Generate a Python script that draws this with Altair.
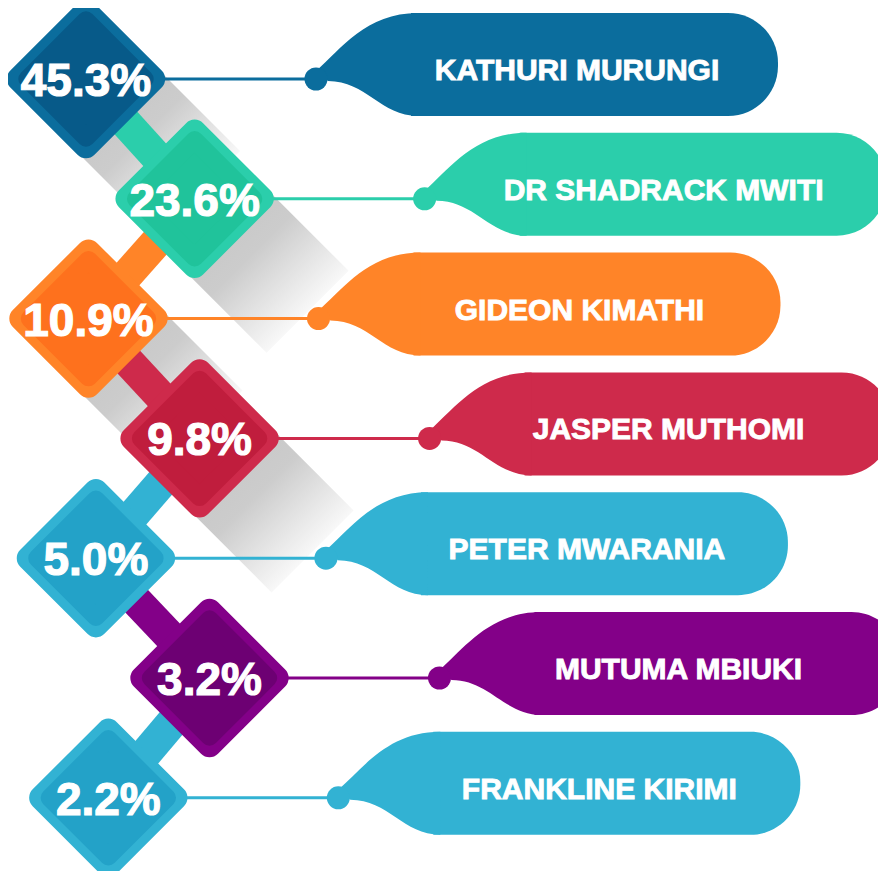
import altair as alt
import numpy as np
import pandas as pd

# ---- data -------------------------------------------------------------
names = ["KATHURI MURUNGI", "DR SHADRACK MWITI", "GIDEON KIMATHI", "JASPER MUTHOMI",
         "PETER MWARANIA", "MUTUMA MBIUKI", "FRANKLINE KIRIMI"]
shares = [45.3, 23.6, 10.9, 9.8, 5.0, 3.2, 2.2]

# ---- styles -----------------------------------------------------------
outer_colors = ["#0B6D9D", "#2BCEAB", "#FF8428", "#CE2A4B", "#32B2D3", "#830088", "#32B2D3"]
inner_colors = ["#075A89", "#20C39B", "#FE711D", "#C01D3D", "#23A2C8", "#6D0073", "#23A2C8"]

# ---- layout constants (pixel-like units) ------------------------------
Y0, STEP = 79, 119.8
X0, ZIG, DRIFT = 86, 108, 0.62
DOT_DX = 230
BODY_X0, BODY_X1 = 95, 462
BODY_TOP, BODY_BOTTOM = 66, 37
LABEL_DX, LABEL_ZIG = 261, -22
SHADOW_LEN = 113
SHADOW_ROWS = 4
TAIL = "M0,-0.08 C0.25,-0.3 0.5,-0.66 1.02,-0.66 L1.02,0.37 C0.65,0.37 0.5,0.02 0.12,0.02 Z"

W, H = 870, 863

idx = np.arange(len(names))
df = pd.DataFrame({"name": names, "share": shares,
                   "outer": outer_colors, "inner": inner_colors})
df["pct"] = [f"{v:.1f}%" for v in shares]
df["cx"] = X0 + ZIG * (idx % 2) + DRIFT * idx ** 2
df["cy"] = Y0 + STEP * idx
df["dot"] = df["cx"] + DOT_DX
df["bx0"] = df["dot"] + BODY_X0
df["bx1"] = df["dot"] + BODY_X1
df["by0"] = df["cy"] - BODY_TOP
df["by1"] = df["cy"] + BODY_BOTTOM
df["lx"] = df["dot"] + LABEL_DX + LABEL_ZIG * (idx % 2)
df["ly"] = df["cy"] + 1
df["py"] = df["cy"] + 17
df["sx"] = df["cx"] + SHADOW_LEN
df["sy"] = df["cy"] + SHADOW_LEN

conn = pd.DataFrame({
    "x": df["cx"].values[:-1], "y": df["cy"].values[:-1],
    "x2": df["cx"].values[1:], "y2": df["cy"].values[1:],
    "col": df["outer"].values[1:],
})

xs = alt.Scale(domain=[8, 8 + W], nice=False, zero=False)
ys = alt.Scale(domain=[8, 8 + H], nice=False, zero=False, reverse=True)


def X(f):
    return alt.X(f"{f}:Q", scale=xs, axis=None)


def Y(f):
    return alt.Y(f"{f}:Q", scale=ys, axis=None)


base = alt.Chart(df)

grad = alt.LinearGradient(
    gradient="linear",
    stops=[alt.GradientStop(color="#c4c4c4", offset=0),
           alt.GradientStop(color="#cccccc", offset=0.5),
           alt.GradientStop(color="#f8f8f8", offset=1)],
    x1=0, y1=0, x2=1, y2=1)

shadows = alt.Chart(df.head(SHADOW_ROWS)).mark_rule(
    strokeWidth=116, strokeCap="butt", stroke=grad
).encode(x=X("cx"), y=Y("cy"), x2="sx:Q", y2="sy:Q")

connectors = alt.Chart(conn).mark_rule(strokeWidth=32, strokeCap="butt").encode(
    x=X("x"), y=Y("y"), x2="x2:Q", y2="y2:Q",
    color=alt.Color("col:N", scale=None))

lines = base.mark_rule(strokeWidth=3).encode(
    x=X("cx"), x2="dot:Q", y=Y("cy"),
    color=alt.Color("outer:N", scale=None))

bodies = base.mark_rect(cornerRadiusTopRight=50, cornerRadiusBottomRight=50).encode(
    x=X("bx0"), x2="bx1:Q", y=Y("by0"), y2="by1:Q",
    color=alt.Color("outer:N", scale=None))

tails = base.mark_point(shape=TAIL, filled=True, size=40000, opacity=1, strokeWidth=0).encode(
    x=X("dot"), y=Y("cy"), color=alt.Color("outer:N", scale=None))

dots = base.mark_circle(size=530, opacity=1).encode(
    x=X("dot"), y=Y("cy"), color=alt.Color("outer:N", scale=None))

d_outer = base.mark_square(angle=45, size=95 * 95, strokeWidth=24, strokeJoin="round",
                           opacity=1, filled=True).encode(
    x=X("cx"), y=Y("cy"),
    fill=alt.Fill("outer:N", scale=None), stroke=alt.Stroke("outer:N", scale=None))

d_inner = base.mark_square(angle=45, size=83 * 83, strokeWidth=18, strokeJoin="round",
                           opacity=1, filled=True).encode(
    x=X("cx"), y=Y("cy"),
    fill=alt.Fill("inner:N", scale=None), stroke=alt.Stroke("inner:N", scale=None))

pct_text = base.mark_text(font="Liberation Sans", fontWeight="bold", fontSize=46,
                          color="white", stroke="white", strokeWidth=1.2,
                          align="center", baseline="alphabetic").encode(
    x=X("cx"), y=Y("py"), text="pct:N")

name_text = base.mark_text(font="Liberation Sans", fontWeight="bold", fontSize=30,
                           color="white", stroke="white", strokeWidth=0.9,
                           align="center", baseline="alphabetic").encode(
    x=X("lx"), y=Y("ly"), text="name:N")

chart = alt.layer(
    shadows, connectors, lines, bodies, tails, dots, d_outer, d_inner, pct_text, name_text
).properties(
    width=W, height=H, padding=0, autosize=alt.AutoSizeParams(type="none"),
    background="white"
).configure_view(stroke=None)

chart.save("out.html", embed_options={"renderer": "svg", "actions": False})
